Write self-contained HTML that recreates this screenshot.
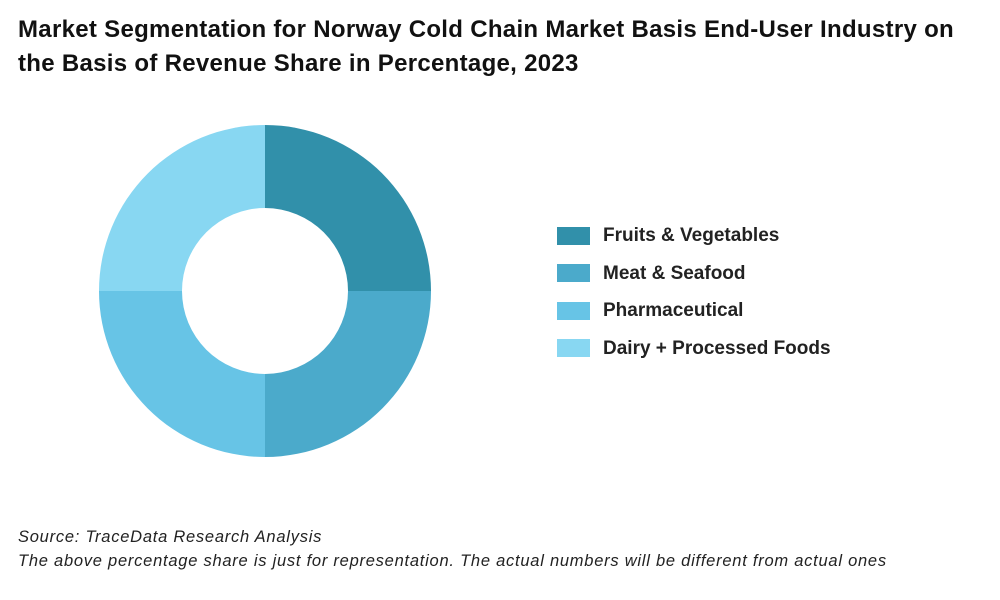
<!DOCTYPE html>
<html><head><meta charset="utf-8"><style>
body{margin:0;width:1000px;height:600px;background:#fff;font-family:"Liberation Sans",sans-serif;position:relative;overflow:hidden}
.t{position:absolute;left:18px;top:13px;font-size:24px;font-weight:bold;color:#111;line-height:34px;width:960px;letter-spacing:0.3px}
.leg{position:absolute;left:557px;font-size:19px;font-weight:bold;color:#222}
.leg span{display:inline-block;width:33px;height:18px;vertical-align:middle;margin-right:13px}
.s{position:absolute;left:18px;font-size:16.5px;font-style:italic;color:#222;letter-spacing:0.75px}
</style></head><body>
<div class="t">Market Segmentation for Norway Cold Chain Market Basis End-User Industry on the Basis of Revenue Share in Percentage, 2023</div>
<svg id="c" width="1000" height="600" style="position:absolute;left:0;top:0"></svg>
<div id="legend"></div>
<div class="s" style="top:528px">Source: TraceData Research Analysis</div>
<div class="s" style="top:552px">The above percentage share is just for representation. The actual numbers will be different from actual ones</div>
<script>
const categories=["Fruits & Vegetables","Meat & Seafood","Pharmaceutical","Dairy + Processed Foods"];
const values=[25,25,25,25];
const colors=["#3190AA","#4BAACB","#67C4E6","#88D7F2"];
const cx=265,cy=291,R=166,r=83;
const svg=document.getElementById('c');
const total=values.reduce((a,b)=>a+b,0);
let a0=-Math.PI/2;
function pt(rad,a){return [cx+rad*Math.cos(a),cy+rad*Math.sin(a)];}
values.forEach((v,i)=>{
  const a1=a0+v/total*2*Math.PI;
  const large=(a1-a0)>Math.PI?1:0;
  const [x0,y0]=pt(R,a0),[x1,y1]=pt(R,a1),[x2,y2]=pt(r,a1),[x3,y3]=pt(r,a0);
  const p=document.createElementNS('http://www.w3.org/2000/svg','path');
  p.setAttribute('d',`M${x0},${y0}A${R},${R} 0 ${large} 1 ${x1},${y1}L${x2},${y2}A${r},${r} 0 ${large} 0 ${x3},${y3}Z`);
  p.setAttribute('fill',colors[i]);
  
  
  svg.appendChild(p);
  a0=a1;
  const d=document.createElement('div');
  d.className='leg';d.style.top=(225+i*37.5)+'px';
  d.innerHTML='<span style="background:'+colors[i]+'"></span>'+categories[i].replace('&','&amp;');
  
  
  document.getElementById('legend').appendChild(d);
});
</script>
</body></html>
